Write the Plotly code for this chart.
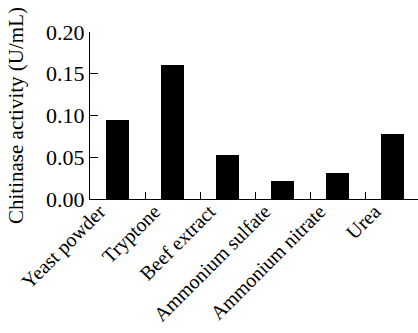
import plotly.graph_objects as go

categories = ["Yeast powder", "Tryptone", "Beef extract", "Ammonium sulfate", "Ammonium nitrate", "Urea"]
activity = [0.095, 0.161, 0.053, 0.022, 0.031, 0.078]
y_ticks = [0.00, 0.05, 0.10, 0.15, 0.20]
y_title = "Chitinase activity (U/mL)"

fig = go.Figure(go.Bar(x=categories, y=activity, marker=dict(color="black", line=dict(width=0)), width=0.42))

font = "Liberation Serif, Times New Roman, serif"
fig.update_layout(
    width=418, height=333,
    margin=dict(l=90, r=0, t=32, b=134),
    paper_bgcolor="white", plot_bgcolor="white",
    showlegend=False,
    font=dict(family=font, color="black"),
    bargap=0,
)
fig.update_xaxes(
    range=[-0.5, 5.46], showline=True, linecolor="black", linewidth=1,
    ticks="inside", tickson="boundaries", ticklen=7, tickcolor="black",
    tickangle=-45, tickfont=dict(size=20, family=font), showgrid=False,
    ticklabelshift=-18, ticklabelstandoff=-8, automargin=False,
)
fig.update_yaxes(
    range=[0, 0.2], tickvals=y_ticks, tickformat=".2f", showline=True, linecolor="black", linewidth=1,
    ticks="inside", ticklen=8, tickcolor="black", tickfont=dict(size=22, family=font),
    showgrid=False, zeroline=False, automargin=False,
    title=dict(text=y_title, font=dict(size=21, family=font), standoff=16),
)
fig.write_html("out.html", config={"displayModeBar": False},
               post_script="document.body.style.margin='0';document.body.style.overflow='hidden';")
